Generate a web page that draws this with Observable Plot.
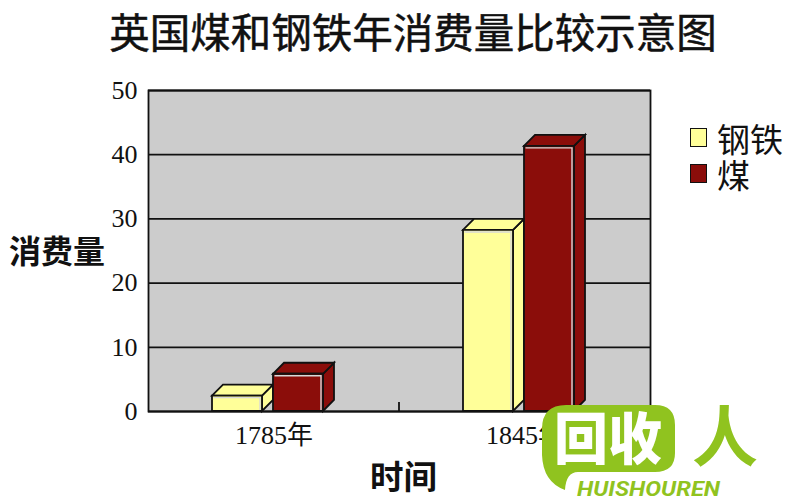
<!DOCTYPE html>
<html><head><meta charset="utf-8">
<script src="https://cdn.jsdelivr.net/npm/d3@7"></script>
<script src="https://cdn.jsdelivr.net/npm/@observablehq/plot@0.6"></script>
<style>
html,body{margin:0;padding:0;background:#fff;width:800px;height:500px;overflow:hidden}
#wrap{position:relative;width:800px;height:500px;font-family:"Noto Sans CJK SC",sans-serif;color:#111}
#title{height:70px;line-height:62px;font-size:40.5px;text-align:center;width:826px;white-space:nowrap;-webkit-text-stroke:.5px #111}
.lab{position:absolute;white-space:nowrap;line-height:1}
.sw{position:absolute;width:15px;height:17px;border:1.8px solid #111}
#wm{position:absolute;left:0;top:0}
svg{display:block}
</style></head>
<body><div id="wrap">
<div id="title"></div>
<div id="chart"></div>
</div>
<script>
const titleText = "英国煤和钢铁年消费量比较示意图";
const yLabel = "消费量";
const xLabel = "时间";
const years = ["1785年", "1845年"];
const series = ["钢铁", "煤"];
const colors = ["#ffff99", "#8b0d0a"];
const steel = [2.4, 28.2];
const coal = [5.8, 41.3];
const yTicks = [0, 10, 20, 30, 40, 50];

const rows = years.flatMap((year, i) => [
  {year, series: series[0], value: steel[i]},
  {year, series: series[1], value: coal[i]}
]);

const depth = 11, shift = -6;
function bar3d(index, scales, values) {
  const g = d3.create("svg:g").attr("transform", `translate(${shift},0)`);
  const w = scales.x.bandwidth();
  for (const i of index) {
    const x0 = values.x[i], x1 = x0 + w;
    const yBase = Math.max(values.y1[i], values.y2[i]);
    const yTop = Math.min(values.y1[i], values.y2[i]);
    const fill = values.fill[i];
    const face = (pts, f, sw = 1.8) => g.append("path").attr("d", "M" + pts.join("L") + "Z")
      .attr("fill", f).attr("stroke", "#111").attr("stroke-width", sw).attr("stroke-linejoin", "miter");
    face([[x1, yBase], [x1 + depth, yBase - depth], [x1 + depth, yTop - depth], [x1, yTop]], fill);
    face([[x0, yTop], [x0 + depth, yTop - depth], [x1 + depth, yTop - depth], [x1, yTop]], fill);
    face([[x0, yBase], [x1, yBase], [x1, yTop], [x0, yTop]], fill);
    g.append("path")
      .attr("d", `M${x0 + 1.5},${yTop + 2}L${x1 - 2},${yTop + 2}L${x1 - 2},${yBase - 1}`)
      .attr("fill", "none").attr("stroke", "#d8d8d8").attr("stroke-width", 1.4);
  }
  return g.node();
}
function boundaryTick(index, scales, values, dimensions) {
  const g = d3.create("svg:g");
  const yBase = scales.y(0);
  g.append("line").attr("x1", dimensions.marginLeft).attr("x2", dimensions.marginLeft)
    .attr("y1", yBase).attr("y2", yBase - 9).attr("stroke", "#111").attr("stroke-width", 1.8);
  return g.node();
}

const tickFont = '"Liberation Serif","Noto Sans CJK SC",serif';
const plot = Plot.plot({
  width: 800, height: 430,
  marginTop: 20, marginLeft: 147, marginRight: 150, marginBottom: 89,
  style: {background: "transparent", overflow: "visible"},
  fx: {domain: years, padding: 0, label: null},
  x: {domain: series, paddingInner: 0.18, paddingOuter: 1.118, axis: null},
  y: {domain: [0, 50]},
  color: {domain: series, range: colors},
  marks: [
    Plot.frame({fill: "#cccccc", shapeRendering: "crispEdges"}),
    Plot.ruleY(yTicks, {stroke: "#111", strokeWidth: 1.8}),
    Plot.ruleY([0], {fx: () => years[1], render: boundaryTick}),
    Plot.barY(rows, {fx: "year", x: "series", y: "value", fill: "series", render: bar3d}),
    Plot.frame({stroke: "#111", strokeWidth: 1.8, facet: "super"}),
    Plot.axisY({ticks: yTicks, tickSize: 0, tickPadding: 11, label: null, fontSize: 26, fontFamily: tickFont, fill: "#111"}),
    Plot.axisFx({anchor: "bottom", tickSize: 0, tickPadding: 14, label: null, fontSize: 26, fontFamily: tickFont, fill: "#111"})
  ]
});
document.getElementById("chart").appendChild(plot);
document.getElementById("title").textContent = titleText;

const wrap = document.getElementById("wrap");
function lab(text, x, y, size, weight) {
  const d = document.createElement("div");
  d.className = "lab"; d.textContent = text;
  d.style.cssText = `left:${x}px;top:${y}px;font-size:${size}px;font-weight:${weight}`;
  wrap.appendChild(d);
}
lab(yLabel, 9, 233, 32, 700);
lab(xLabel, 370, 458, 33.5, 700);
series.forEach((s, i) => {
  const sw = document.createElement("div");
  sw.className = "sw";
  sw.style.cssText = `left:690px;top:${128 + i * 36}px;background:${colors[i]}`;
  wrap.appendChild(sw);
  lab(s, 717, 122 + i * 36, 33, 400);
});

// Site watermark that overlays the lower-right corner of the picture
wrap.insertAdjacentHTML("beforeend", `
<svg id="wm" width="800" height="500">
  <path d="M566,405H655Q675,405 675,425V453Q675,472 655,472H578Q566,472 565,490Q543,482 542,455V429Q542,405 566,405Z" fill="#90c31f"/>
  <text x="608" y="459" text-anchor="middle" font-size="56" font-weight="900" fill="#fff" font-family="Noto Sans CJK SC" textLength="108" lengthAdjust="spacingAndGlyphs">回收</text>
  <text x="725" y="461" text-anchor="middle" font-size="66" font-weight="700" fill="#90c31f" font-family="Noto Sans CJK SC">人</text>
  <text x="577" y="496" font-size="21" font-weight="700" font-style="italic" fill="#90c31f" font-family="Roboto" textLength="143" lengthAdjust="spacingAndGlyphs">HUISHOUREN</text>
</svg>`);
</script>
</body></html>
